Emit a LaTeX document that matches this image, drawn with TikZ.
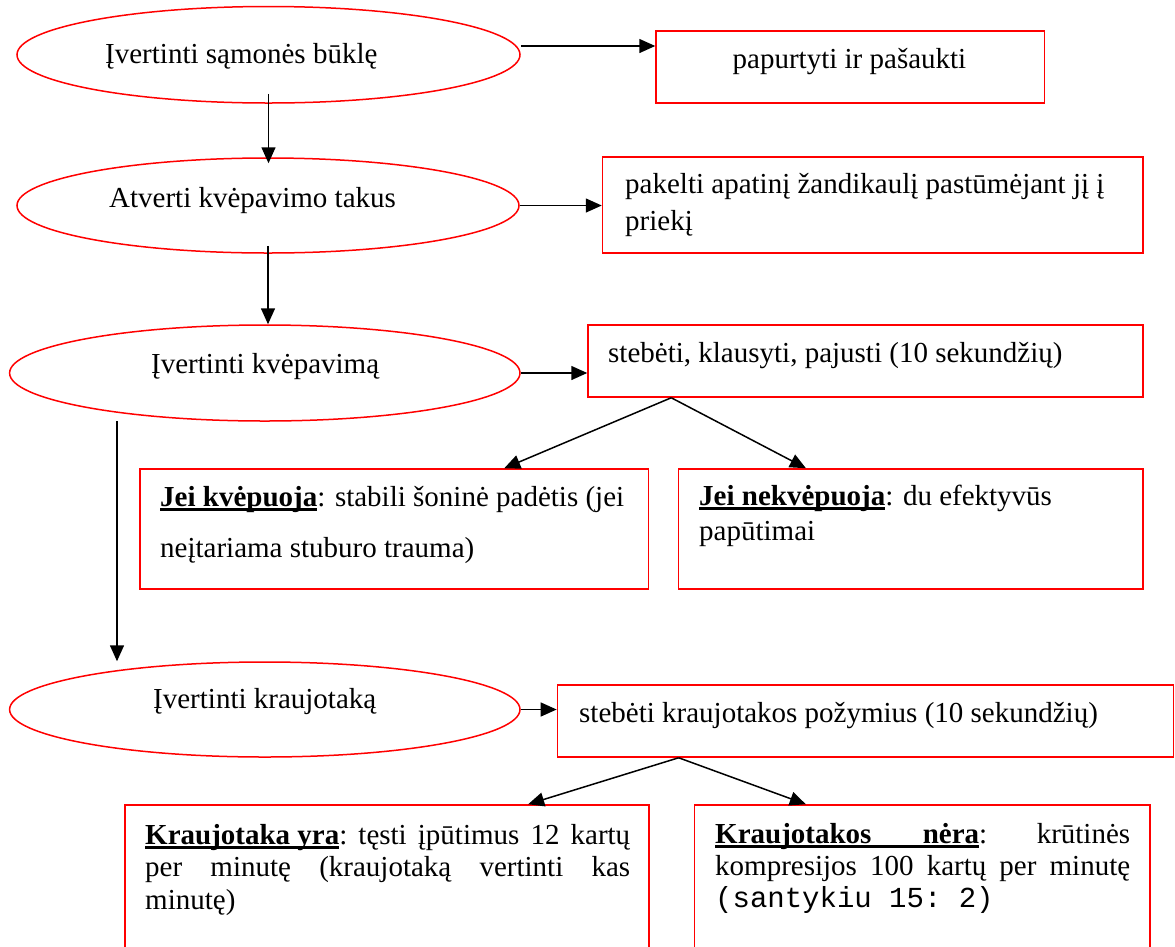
\documentclass[tikz,border=0pt]{standalone}
\usepackage{fontspec}
\setmainfont{Liberation Serif}
\setmonofont{Liberation Mono}
\usetikzlibrary{shapes.geometric,arrows.meta}
\newcommand\ulb[1]{\setbox0\hbox{\bfseries #1}\rlap{\rule[-4.5pt]{\wd0}{2.2pt}}\box0}
\newcommand\ulw[2]{\setbox0\hbox to #1{\bfseries #2}\rlap{\rule[-4.5pt]{\wd0}{2.2pt}}\box0}
\begin{document}
\begin{tikzpicture}[x=1pt,y=-1pt,
 ell/.style={ellipse, draw=red, line width=1.5pt, inner sep=0pt},
 box/.style={rectangle, draw=red, line width=1.5pt, inner sep=0pt},
 txt/.style={anchor=base west, inner sep=0pt, font=\fontsize{29}{35}\selectfont},
 arr/.style={draw=black, line width=1.5pt, -{Triangle[length=16pt,width=14pt]}}]
\useasboundingbox (0,0) rectangle (1175,946);
\clip (0,0) rectangle (1175,946);
\fill[white] (0,0) rectangle (1175,946);
% ellipses
\node[ell, minimum width=503pt, minimum height=96.5pt] (e1) at (268.5,54.75) {};
\node[txt] (t1) at (105,63) {Įvertinti sąmonės būklę};
\node[ell, minimum width=502pt, minimum height=95pt] (e2) at (268,205.5) {};
\node[txt] (t2) at (109,207) {Atverti kvėpavimo takus};
\node[ell, minimum width=510.4pt, minimum height=96pt] (e3) at (264.8,373) {};
\node[txt] (t3) at (151,373) {Įvertinti kvėpavimą};
\node[ell, minimum width=510.4pt, minimum height=95pt] (e4) at (264.8,709.5) {};
\node[txt] (t4) at (153,708) {Įvertinti kraujotaką};
% boxes
\node[box, minimum width=388.5pt, minimum height=72pt] (b1) at (850.25,67) {};
\node[txt] (b1t) at (732.5,68) {papurtyti ir pašaukti};
\node[box, minimum width=540.5pt, minimum height=96pt] (b2) at (872.75,205) {};
\node[txt] (b2t) at (625,193) {\vtop{\baselineskip=37pt\hbox{pakelti apatinį žandikaulį pastūmėjant jį į}\hbox{priekį}}};
\node[box, minimum width=555pt, minimum height=72pt] (b3) at (865.5,361) {};
\node[txt] (b3t) at (608,362) {stebėti, klausyti, pajusti (10 sekundžių)};
\node[box, minimum width=508.5pt, minimum height=120pt] (jkb) at (394.25,529) {};
\node[txt] (jkt) at (160,506) {\vtop{\baselineskip=51pt\hbox{\ulb{Jei kvėpuoja}: stabili šoninė padėtis (jei}\hbox{neįtariama stuburo trauma)}}};
\node[box, minimum width=464.3pt, minimum height=120pt] (jnb) at (910.85,529) {};
\node[txt] (jnt) at (699,505) {\vtop{\baselineskip=35pt\hbox{\ulb{Jei nekvėpuoja}: du efektyvūs}\hbox{papūtimai}}};
\node[box, minimum width=616.3pt, minimum height=72pt] (b4) at (865.55,721) {};
\node[txt] (b4t) at (579,722) {stebėti kraujotakos požymius (10 sekundžių)};
\node[box, minimum width=524.1pt, minimum height=195pt] (kyb) at (386.95,902.5) {};
\node[txt] (kyt) at (145,844) {\vtop{\baselineskip=32.5pt\hbox to 485pt{\ulb{Kraujotaka yra}:\hfill tęsti\hfill įpūtimus\hfill 12\hfill kartų}\hbox to 485pt{per\hfill minutę\hfill (kraujotaką\hfill vertinti\hfill kas}\hbox{minutę)}}};
\node[box, minimum width=455.4pt, minimum height=195pt] (knb) at (922.3,902.5) {};
\node[txt] (knt) at (715,843) {\vtop{\baselineskip=32pt\hbox to 415pt{\ulw{264pt}{Kraujotakos\hfill nėra}:\hfill krūtinės}\hbox to 415pt{kompresijos\hfill 100\hfill kartų\hfill per\hfill minutę}\hbox{\ttfamily (santykiu 15: 2)}}};
% connectors
\coordinate (a1) at ([yshift=8.75pt]e1.east);
\draw[arr] (a1) -- (a1 -| b1.west);
\draw[arr] (e2.east) -- (e2.east -| b2.west);
\draw[arr] (e3.east) -- (e3.east -| b3.west);
\draw[arr] (e4.east) -- (e4.east -| b4.west);
\coordinate (d1) at ([yshift=10pt]e1.south);
\draw[arr] (d1) -- ([yshift=-6pt]d1 |- e2.north);
\coordinate (d2) at ([yshift=8pt]e2.south);
\draw[arr] (d2) -- (d2 |- e3.north);
\coordinate (v3) at (117,421);
\draw[arr] (v3) -- (v3 |- e4.north);
\coordinate (br3) at ([xshift=84pt]b3.south west);
\draw[arr] (br3) -- ([xshift=365pt]jkb.north west);
\draw[arr] (br3) -- ([xshift=128pt]jnb.north west);
\coordinate (br4) at ([xshift=122pt]b4.south west);
\draw[arr] (br4) -- ([xshift=404pt]kyb.north west);
\draw[arr] (br4) -- ([xshift=112pt]knb.north west);
\end{tikzpicture}
\end{document}
